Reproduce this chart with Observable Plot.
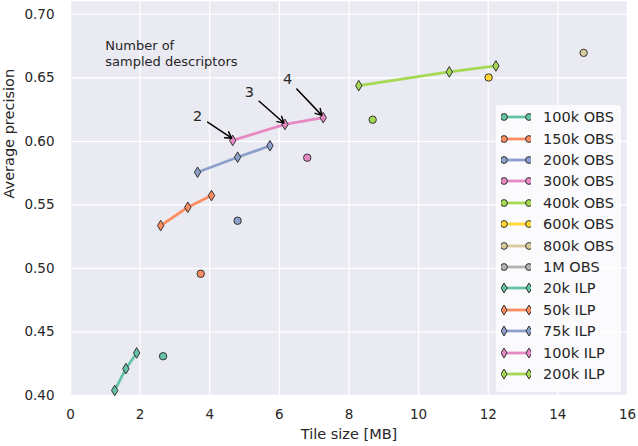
<!DOCTYPE html>
<html>
<head>
<meta charset="utf-8">
<script src="https://cdn.jsdelivr.net/npm/d3@7"></script>
<script src="https://cdn.jsdelivr.net/npm/@observablehq/plot@0.6"></script>
<style>
  html, body { margin: 0; padding: 0; background: #fff; }
  #wrap { position: relative; width: 638px; height: 446px; font-family: "DejaVu Sans", sans-serif; }
  #legend { position: absolute; left: 496px; top: 105px; width: 125px; height: 287px;
            background: rgba(255,255,255,0.8); border-radius: 3px; box-sizing: border-box; padding-top: 1.6px; }
  .row { height: 21.4px; display: flex; align-items: center; font-size: 14.5px; color: #262626; white-space: nowrap; }
  .row svg { margin-left: 5px; margin-right: 12px; flex: none; }
</style>
</head>
<body>
<div id="wrap"></div>
<script>
// ---- data ----
const obsLabels = ["100k OBS", "150k OBS", "200k OBS", "300k OBS", "400k OBS", "600k OBS", "800k OBS", "1M OBS"];
const obsX = [2.66, 3.74, 4.80, 6.80, 8.68, 12.01, 14.74, null];
const obsY = [0.4309, 0.4958, 0.5375, 0.5871, 0.6170, 0.6502, 0.6696, null];

const ilpLabels = ["20k ILP", "50k ILP", "75k ILP", "100k ILP", "200k ILP"];
const ilpX = [[1.27, 1.59, 1.90], [2.59, 3.37, 4.05], [3.65, 4.80, 5.73], [4.66, 6.16, 7.26], [8.28, 10.88, 12.22]];
const ilpY = [[0.4040, 0.4211, 0.4335], [0.5337, 0.5481, 0.5573], [0.5757, 0.5875, 0.5965], [0.6007, 0.6133, 0.6186], [0.6438, 0.6546, 0.6593]];

const obsColors = ["#66c2a5", "#fc8d62", "#8da0cb", "#e78ac3", "#a6d854", "#ffd92f", "#d9cb9c", "#b3b3b3"];
const ilpColors = ["#66c2a5", "#fc8d62", "#8da0cb", "#e78ac3", "#a6d854"];

const annLabels = ["2", "3", "4"];
const annTextX = [3.65, 5.14, 6.24];
const annTextY = [0.6193, 0.6383, 0.6488];
const annFromX = [3.94, 5.42, 6.50];
const annFromY = [0.6151, 0.6315, 0.6412];
const annToX = [4.63, 6.13, 7.22];
const annToY = [0.6025, 0.6144, 0.6204];

const noteLines = ["Number of", "sampled descriptors"];
const noteX = 1.0;
const noteY = 0.6695;

const xTicks = [0, 2, 4, 6, 8, 10, 12, 14, 16];
const yTicks = [0.40, 0.45, 0.50, 0.55, 0.60, 0.65, 0.70];

// ---- tables ----
const obsData = obsLabels.map((s, i) => ({s, x: obsX[i], y: obsY[i], c: obsColors[i]})).filter(d => d.x != null);
const ilpData = ilpLabels.flatMap((s, i) => ilpX[i].map((x, j) => ({s, x, y: ilpY[i][j], c: ilpColors[i]})));
const annData = annLabels.map((t, i) => ({t, tx: annTextX[i], ty: annTextY[i], x1: annFromX[i], y1: annFromY[i], x2: annToX[i], y2: annToY[i]}));

const thinDiamond = {
  draw(ctx, size) {
    const r = Math.sqrt(size / Math.PI);
    ctx.moveTo(0, -r); ctx.lineTo(r * 0.6, 0); ctx.lineTo(0, r); ctx.lineTo(-r * 0.6, 0); ctx.closePath();
  }
};

const edge = "#333333";

const chart = Plot.plot({
  width: 638, height: 446,
  marginLeft: 70, marginRight: 11, marginTop: 1, marginBottom: 51,
  x: {domain: [0, 16]},
  y: {domain: [0.40, 0.71]},
  style: {fontFamily: "DejaVu Sans, sans-serif", fontSize: "13.5px", color: "#262626", background: "white", overflow: "visible"},
  marks: [
    Plot.frame({fill: "#EAEAF2", stroke: null}),
    Plot.gridX(xTicks, {stroke: "white", strokeOpacity: 1, strokeWidth: 1.3}),
    Plot.gridY(yTicks, {stroke: "white", strokeOpacity: 1, strokeWidth: 1.3}),
    Plot.axisX(xTicks, {tickSize: 0, tickPadding: 14, tickFormat: d => String(d), label: null, fill: "#262626"}),
    Plot.axisY(yTicks, {tickSize: 0, tickPadding: 16, tickFormat: d3.format(".2f"), label: null, fill: "#262626"}),
    Plot.text(["Tile size [MB]"], {frameAnchor: "bottom", dy: 43, fontSize: 14.5, fill: "#262626"}),
    Plot.text(["Average precision"], {frameAnchor: "left", dx: -61, rotate: -90, fontSize: 14.5, fill: "#262626"}),
    Plot.line(ilpData, {x: "x", y: "y", z: "s", stroke: "c", strokeWidth: 2.8}),
    Plot.dot(ilpData, {x: "x", y: "y", fill: "c", stroke: edge, strokeWidth: 1, r: 5.3, symbol: thinDiamond}),
    Plot.dot(obsData, {x: "x", y: "y", fill: "c", stroke: edge, strokeWidth: 1, r: 3.7}),
    Plot.arrow(annData, {x1: "x1", y1: "y1", x2: "x2", y2: "y2", stroke: "black", strokeWidth: 1.5, headLength: 7}),
    Plot.text(annData, {x: "tx", y: "ty", text: "t", fontSize: 14.5, fill: "#262626"}),
    Plot.text([noteLines.join("\n")], {x: noteX, y: noteY, textAnchor: "start", fontSize: 13, lineHeight: 1.2, fill: "#262626"})
  ]
});

const wrap = document.getElementById("wrap");
wrap.appendChild(chart);

// ---- legend (HTML overlay) ----
const legend = document.createElement("div");
legend.id = "legend";
const entries = [
  ...obsLabels.map((s, i) => ({s, c: obsColors[i], m: "circle"})),
  ...ilpLabels.map((s, i) => ({s, c: ilpColors[i], m: "diamond"}))
];
const ns = "http://www.w3.org/2000/svg";
for (const e of entries) {
  const row = document.createElement("div");
  row.className = "row";
  const svg = document.createElementNS(ns, "svg");
  svg.setAttribute("width", 30); svg.setAttribute("height", 14);
  const line = document.createElementNS(ns, "line");
  line.setAttribute("x1", 3); line.setAttribute("x2", 28); line.setAttribute("y1", 7); line.setAttribute("y2", 7);
  line.setAttribute("stroke", e.c); line.setAttribute("stroke-width", 2.8);
  svg.appendChild(line);
  for (const cx of [3, 28]) {
    let m;
    if (e.m === "circle") {
      m = document.createElementNS(ns, "circle");
      m.setAttribute("cx", cx); m.setAttribute("cy", 7); m.setAttribute("r", 3.4);
    } else {
      m = document.createElementNS(ns, "path");
      m.setAttribute("d", `M${cx},${7 - 5}L${cx + 3},7L${cx},${7 + 5}L${cx - 3},7Z`);
    }
    m.setAttribute("fill", e.c); m.setAttribute("stroke", edge); m.setAttribute("stroke-width", 1);
    svg.appendChild(m);
  }
  row.appendChild(svg);
  const t = document.createElement("span");
  t.textContent = e.s;
  row.appendChild(t);
  legend.appendChild(row);
}
wrap.appendChild(legend);
</script>
</body>
</html>
